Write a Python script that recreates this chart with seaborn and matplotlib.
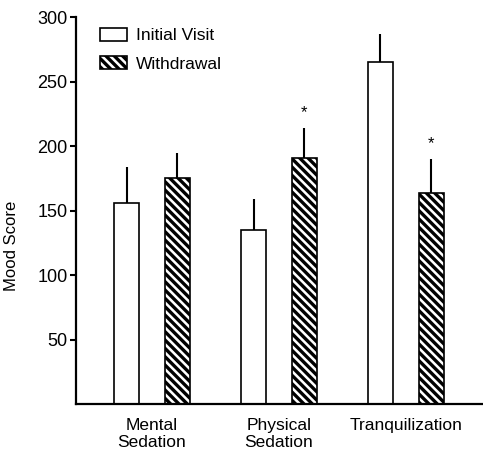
import pandas as pd
import numpy as np
import seaborn as sns
import matplotlib.pyplot as plt
from matplotlib.patches import Patch

# data
categories = ["Mental\nSedation", "Physical\nSedation", "Tranquilization"]
groups = ["Initial Visit", "Withdrawal"]
initial = [156, 135, 265]
withdrawal = [175, 191, 164]
initial_err = [28, 24, 22]
withdrawal_err = [20, 23, 26]
significant = [False, True, True]  # asterisk over withdrawal bar

df = pd.DataFrame({
    "Condition": categories * 2,
    "Visit": [groups[0]] * 3 + [groups[1]] * 3,
    "Score": initial + withdrawal,
})

sns.set_style("ticks", {"axes.edgecolor": "black", "text.color": "black",
                        "axes.labelcolor": "black", "xtick.color": "black",
                        "ytick.color": "black"})
plt.rcParams["font.family"] = ["Liberation Sans", "DejaVu Sans"]
plt.rcParams["hatch.linewidth"] = 2.4
plt.rcParams["hatch.color"] = "black"

fig = plt.figure(figsize=(4.83, 4.51), dpi=100)
ax = fig.add_axes([0.157, 0.104, 0.841, 0.858])

sns.barplot(data=df, x="Condition", y="Score", hue="Visit", order=categories,
            hue_order=groups, width=0.8, gap=0.5, errorbar=None,
            palette=["white", "white"], edgecolor="black", linewidth=1.2,
            legend=False, ax=ax)

# hatch the withdrawal bars and add one-sided error bars
errs = [initial_err, withdrawal_err]
for i, cont in enumerate(ax.containers):
    for j, bar in enumerate(cont):
        if i == 1:
            bar.set_hatch("\\\\\\\\")
        xc = bar.get_x() + bar.get_width() / 2
        top = bar.get_height()
        ax.vlines(xc, top, top + errs[i][j], color="black", lw=1.5, zorder=1)
        if i == 1 and significant[j]:
            ax.text(xc, top + errs[i][j] + 6, "*", ha="center", va="bottom",
                    fontsize=12)

ax.set_xlim(-0.6, 2.6)
ax.set_ylim(0, 300)
ax.set_yticks([50, 100, 150, 200, 250, 300])
ax.tick_params(axis="y", labelsize=13, width=1.5, length=4, pad=2)
ax.tick_params(axis="x", length=0, labelsize=12.5, pad=10)
ax.set_xlabel("")
ax.set_ylabel("Mood Score", fontsize=12)
ax.yaxis.set_label_coords(-0.14, 0.41)
sns.despine(ax=ax)
ax.spines["left"].set_linewidth(1.6)
ax.spines["bottom"].set_linewidth(1.6)

handles = [Patch(facecolor="white", edgecolor="black", linewidth=1.2),
           Patch(facecolor="white", edgecolor="black", linewidth=1.2, hatch="\\\\\\\\")]
ax.legend(handles, groups, loc="upper left", bbox_to_anchor=(0.042, 0.99),
          borderaxespad=0, frameon=False, fontsize=12.5, handlelength=1.55,
          handleheight=0.75, labelspacing=0.75, handletextpad=0.55)

fig.savefig("out.png", dpi=100)
